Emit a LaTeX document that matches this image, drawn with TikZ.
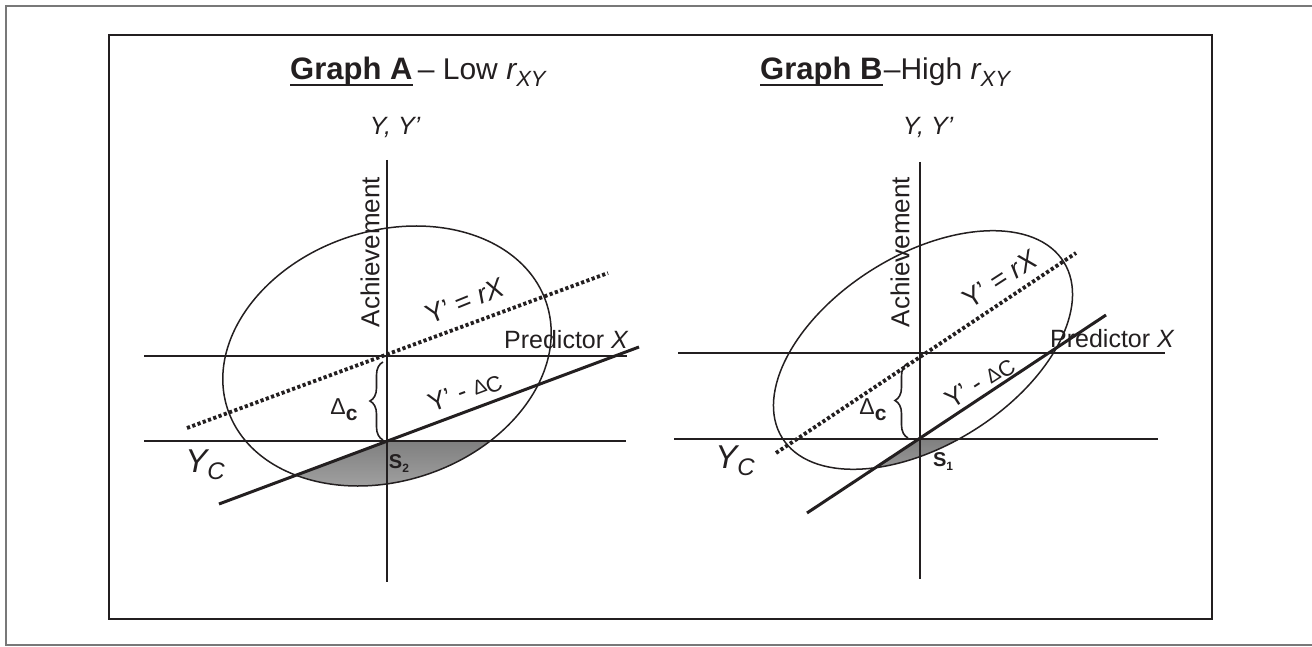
\documentclass[tikz,border=0pt]{standalone}
\usepackage{fontspec}
\setmainfont{Liberation Sans}
\usetikzlibrary{decorations.pathreplacing}
\definecolor{ink}{RGB}{35,31,32}
\definecolor{shade}{RGB}{140,140,143}
\definecolor{framegray}{RGB}{120,120,120}
\newcommand{\fs}[1]{\fontsize{#1}{#1}\selectfont}
\begin{document}
\begin{tikzpicture}[x=1pt,y=1pt,
  thinline/.style={draw=ink,line width=1.5pt},
  thickline/.style={draw=ink,line width=3pt},
  dotline/.style={draw=ink,line width=3.8pt,dash pattern=on 3.2pt off 2.4pt},
  lbl/.style={text=ink,inner sep=0pt},
  bracestyle/.style={draw=ink,line width=1.6pt,decorate,decoration={brace,amplitude=13pt}}]
\useasboundingbox (0,0) rectangle (1312,-647);
% frames
\draw[framegray,line width=1.6pt] (1320,-6) -- (6,-6) -- (6,-645) -- (1320,-645);
\draw[ink,line width=2.2pt] (109,-35) rectangle (1212,-619);

% ================= Graph A =================
\coordinate (oA) at (387,-356);
\coordinate (cA) at (387,-441);
% shaded S2
\begin{scope}
  \clip (oA) ellipse [x radius=168, y radius=125, rotate=18.5];
  \fill[shade] (200,-511) -- (cA) -- (620,-441) -- (620,-620) -- (200,-620) -- cycle;
\end{scope}
\draw[thinline] (oA) ellipse [x radius=168, y radius=125, rotate=18.5];
\draw[thinline] (387,-160) -- (387,-582);
\draw[thinline] (144,-356) -- (627,-356);
\draw[thinline] (144,-441) -- (626,-441);
\coordinate (dA1) at (187,-428);
\coordinate (dA2) at (608,-273);
\draw[dotline] (dA1) -- (dA2);
\coordinate (sA1) at (219,-504);
\coordinate (sA2) at (639,-347);
\draw[thickline] (sA1) -- (sA2);
\draw[bracestyle] (383,-440) -- (383,-362);

\node[lbl] (tYA) at (395,-128) {\fs{25}\itshape Y, Y’};
\node[lbl,rotate=90] (achA) at (370,-252) {\fs{26}Achievement};
\node[lbl] (predA) at (566,-340) {\fs{25}Predictor \itshape X};
\node[lbl] (ycA) at (205,-465) {\fs{33}\itshape Y\raisebox{-7pt}{\fs{24}C}};
\node[lbl] (s2) at (399,-464) {\fs{20}\bfseries S\raisebox{-4pt}{\fs{12}2}};
\node[lbl] (dcA) at (344,-410) {\fs{23}Δ\raisebox{-6pt}{\fs{21}\bfseries c}};
\node[lbl,rotate=22] (yeqA) at (465,-301) {\fs{27}Y’ = {\itshape rX}};
\node[lbl,rotate=20.5] (ymA) at (465,-392) {\fs{26}Y’ - {\fs{20}Δ}\raisebox{-3pt}{\fs{22}C}};

\node[lbl,anchor=base west] (gA) at (290,-80) {\fs{31}\bfseries Graph A};
\node[lbl,anchor=base west] (gAr) at ([xshift=5pt]gA.base east) {\fs{30}– Low \itshape r\raisebox{-7pt}{\fs{22}XY}};
\draw[ink,line width=1.8pt] ([yshift=-5pt]gA.base west) -- ([yshift=-5pt]gA.base east);

% ================= Graph B =================
\coordinate (oB) at (920,-353);
\coordinate (cB) at (920,-439);
\begin{scope}
  \clip (923,-350) ellipse [x radius=166, y radius=95, rotate=32];
  \fill[shade] (780,-531) -- (cB) -- (1100,-439) -- (1100,-600) -- (780,-600) -- cycle;
\end{scope}
\draw[thinline] (923,-350) ellipse [x radius=166, y radius=95, rotate=32];
\draw[thinline] (920,-162) -- (920,-579);
\draw[thinline] (678,-353) -- (1165,-353);
\draw[thinline] (674,-439) -- (1158,-439);
\coordinate (dB1) at (776,-453);
\coordinate (dB2) at (1076,-253);
\draw[dotline] (dB1) -- (dB2);
\coordinate (sB1) at (807,-513);
\coordinate (sB2) at (1106,-315);
\draw[thickline] (sB1) -- (sB2);
\draw[bracestyle] (908,-438) -- (908,-363);

\node[lbl] (tYB) at (928,-128) {\fs{25}\itshape Y, Y’};
\node[lbl,rotate=90] (achB) at (900,-252) {\fs{26}Achievement};
\node[lbl] (predB) at (1112,-339) {\fs{25}Predictor \itshape X};
\node[lbl] (ycB) at (735,-461) {\fs{33}\itshape Y\raisebox{-7pt}{\fs{24}C}};
\node[lbl] (s1) at (943,-462) {\fs{20}\bfseries S\raisebox{-4pt}{\fs{12}1}};
\node[lbl] (dcB) at (873,-410) {\fs{23}Δ\raisebox{-6pt}{\fs{21}\bfseries c}};
\node[lbl,rotate=33] (yeqB) at (1000,-279) {\fs{27}Y’ = {\itshape rX}};
\node[lbl,rotate=33] (ymB) at (980,-383) {\fs{26}Y’ - {\fs{20}Δ}\raisebox{-3pt}{\fs{22}C}};

\node[lbl,anchor=base west] (gB) at (760,-80) {\fs{31}\bfseries Graph B};
\node[lbl,anchor=base west] (gBr) at ([xshift=1pt]gB.base east) {\fs{30}–High \itshape r\raisebox{-7pt}{\fs{22}XY}};
\draw[ink,line width=1.8pt] ([yshift=-5pt]gB.base west) -- ([yshift=-5pt]gB.base east);
\end{tikzpicture}
\end{document}
